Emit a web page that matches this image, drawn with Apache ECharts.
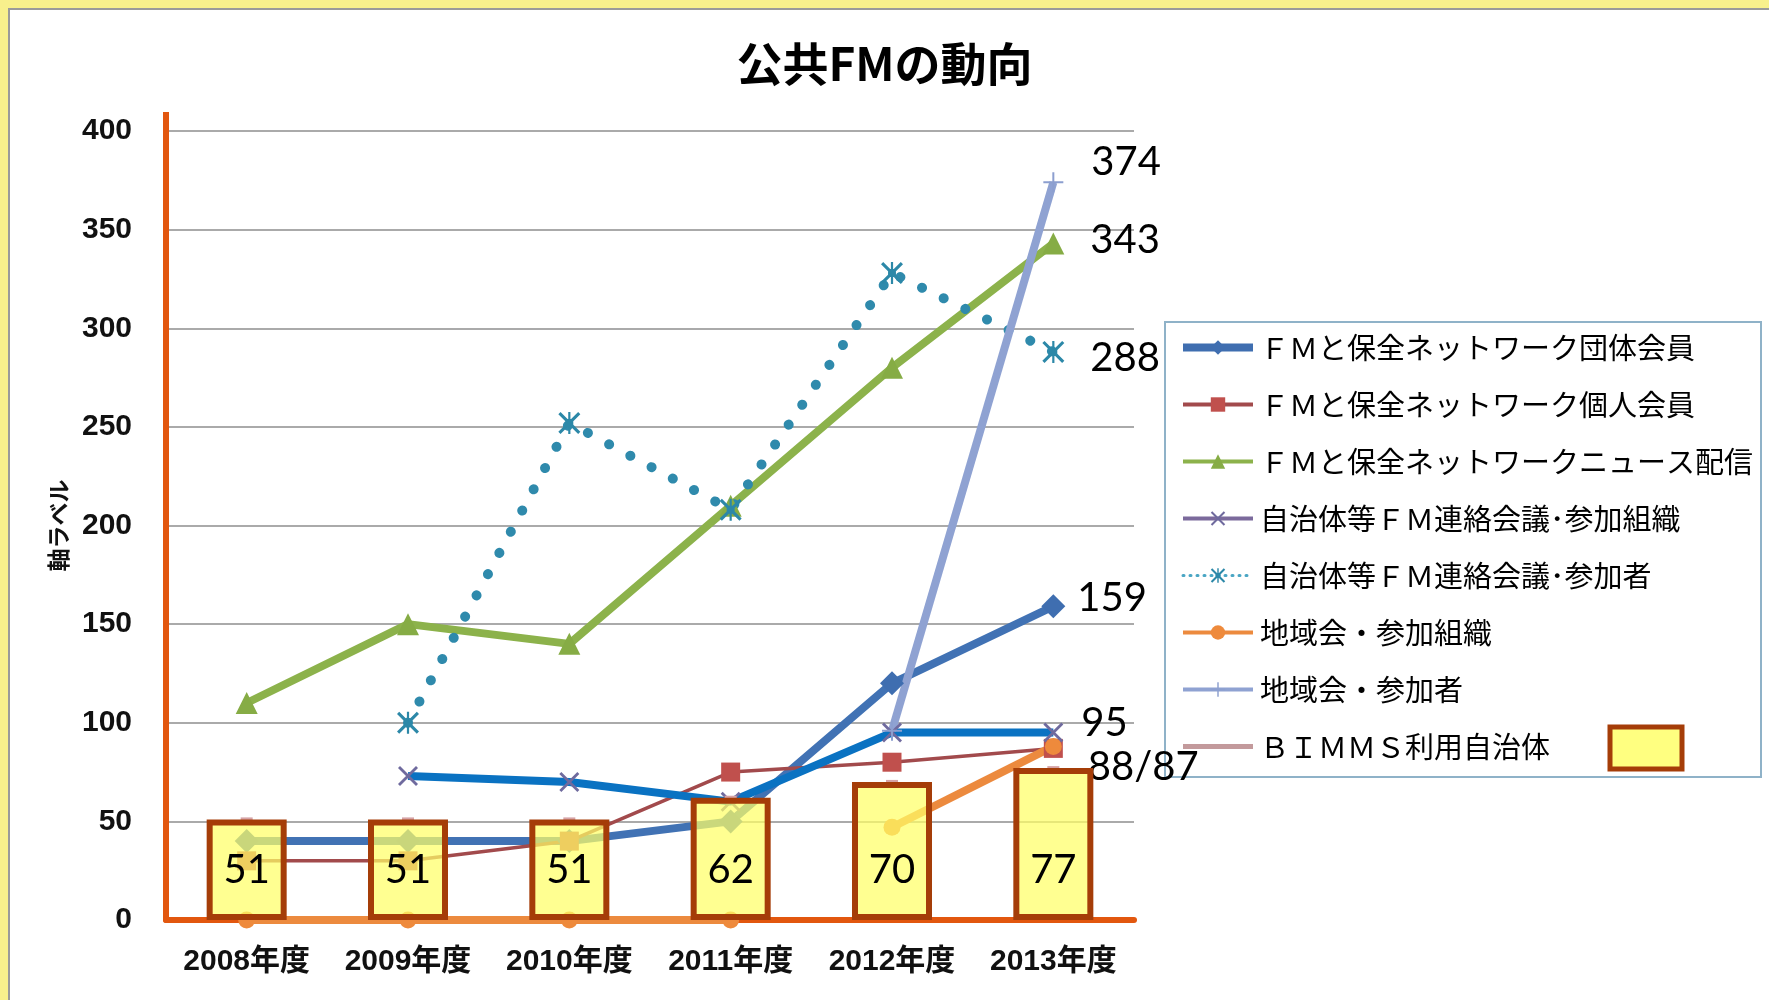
<!DOCTYPE html>
<html lang="ja">
<head>
<meta charset="utf-8">
<title>公共FMの動向</title>
<script src="https://cdn.jsdelivr.net/npm/echarts@6/dist/echarts.min.js"></script>
<style>
  html, body { margin: 0; padding: 0; }
  body { width: 1769px; height: 1000px; background: #f8f08c; position: relative; overflow: hidden; }
  #panel { position: absolute; left: 8px; top: 8px; right: 0; bottom: 0; background: #fff;
           border-left: 2px solid #9a9a9a; border-top: 2px solid #9a9a9a; }
  #chart { position: absolute; left: 0; top: 0; width: 1769px; height: 1000px; }
</style>
</head>
<body>
<div id="panel"></div>
<div id="chart"></div>
<script>
// ---- data ----
const years = ['2008年度', '2009年度', '2010年度', '2011年度', '2012年度', '2013年度'];
const groupMembers         = [40, 40, 40, 50, 120, 159];      // ＦＭと保全ネットワーク団体会員
const individualMembers    = [30, 30, 40, 75, 80, 87];        // ＦＭと保全ネットワーク個人会員
const newsDelivery         = [110, 150, 140, 210, 280, 343];  // ＦＭと保全ネットワークニュース配信
const councilOrgs          = [null, 73, 70, 60, 95, 95];      // 自治体等ＦＭ連絡会議・参加組織
const councilParticipants  = [null, 100, 252, 208, 328, 288]; // 自治体等ＦＭ連絡会議・参加者
const regionalOrgs         = [0, 0, 0, 0, 47, 88];            // 地域会・参加組織
const regionalParticipants = [null, null, null, null, 96, 374]; // 地域会・参加者
const bimmsUsers           = [51, 51, 51, 62, 70, 77];        // ＢＩＭＭＳ利用自治体
const regionalOrgsTrendFrom = 4; // the 地域会 trend line starts in 2012
const yMin = 0, yMax = 400, yStep = 50;

// ---- names ----
const N = {
  group: 'ＦＭと保全ネットワーク団体会員',
  indiv: 'ＦＭと保全ネットワーク個人会員',
  news: 'ＦＭと保全ネットワークニュース配信',
  cOrg: '自治体等ＦＭ連絡会議･参加組織',
  cPar: '自治体等ＦＭ連絡会議･参加者',
  rOrg: '地域会・参加組織',
  rPar: '地域会・参加者',
  bimms: 'ＢＩＭＭＳ利用自治体'
};

// ---- layout / style ----
const GRID = { left: 166, right: 635, top: 131, bottom: 80 };
const ORANGE_AXIS = '#e2570f';
const LABEL_FONT = 'Lato, "Open Sans", sans-serif';
const CJK = '"Noto Sans CJK JP", "Noto Sans", sans-serif';

const X_PATH = 'path://M1,0L10,9L9,10L0,1Z M9,0L10,1L1,10L0,9Z';
const PLUS_PATH = 'path://M4.5,0H5.5V10H4.5Z M0,4.5H10V5.5H0Z';
const STAR_PATH = 'path://M1,0L10,9L9,10L0,1Z M9,0L10,1L1,10L0,9Z M4.5,0H5.5V10H4.5Z M3.2,3.2H6.8V6.8H3.2Z';

const clean = arr => arr.map(v => (v === null ? '-' : v));

// value label placed to the right of the final point of a series
function endLabelled(values, text, offset) {
  const last = values.length - 1;
  return clean(values).map((v, i) => i === last ? {
    value: v,
    label: { show: true, position: 'right', distance: 0, offset: offset, formatter: text,
             fontSize: 40, fontFamily: LABEL_FONT, color: '#000' }
  } : v);
}

const lastOf = arr => arr[arr.length - 1];

const series = [
  {
    name: N.group, type: 'line', z: 3, data: endLabelled(groupMembers, String(lastOf(groupMembers)), [12, -8]),
    symbol: 'diamond', symbolSize: 24, itemStyle: { color: '#3f6eb0' },
    lineStyle: { color: '#4172b4', width: 8 }
  },
  {
    name: N.indiv, type: 'line', z: 3, data: clean(individualMembers),
    symbol: 'rect', symbolSize: 19, itemStyle: { color: '#c0504d' },
    lineStyle: { color: '#a24a4c', width: 3.5 }
  },
  {
    name: N.news, type: 'line', z: 3, data: endLabelled(newsDelivery, String(lastOf(newsDelivery)), [26, -3]),
    symbol: 'triangle', symbolSize: 22, itemStyle: { color: '#86ac45' },
    lineStyle: { color: '#8cb24b', width: 8 }
  },
  {
    name: N.cOrg, type: 'line', z: 3, data: endLabelled(councilOrgs, String(lastOf(councilOrgs)), [18, -10]),
    symbol: X_PATH, symbolSize: 20, itemStyle: { color: '#6f6a9e' },
    lineStyle: { color: '#0a72c2', width: 8 }
  },
  {
    name: N.cPar, type: 'line', z: 3, data: endLabelled(councilParticipants, String(lastOf(councilParticipants)), [26, 6]),
    symbol: STAR_PATH, symbolSize: 22, itemStyle: { color: '#2c88a8' },
    lineStyle: { color: '#2f8aac', width: 10, type: [0.1, 24], cap: 'round' }
  },
  {
    name: N.rOrg, type: 'line', z: 3,
    data: regionalOrgs.map((v, i) => (i < regionalOrgsTrendFrom ? v : '-')),
    symbol: 'circle', symbolSize: 17, itemStyle: { color: '#ee8a3c' },
    lineStyle: { color: '#ec8a3e', width: 8 }
  },
  {
    name: N.rOrg, type: 'line', z: 3,
    data: endLabelled(regionalOrgs.map((v, i) => (i >= regionalOrgsTrendFrom ? v : null)),
      lastOf(regionalOrgs) + '/' + lastOf(individualMembers), [26, 21]),
    symbol: 'circle', symbolSize: 17, itemStyle: { color: '#ee8a3c' },
    lineStyle: { color: '#ec8a3e', width: 8 }
  },
  {
    name: N.rPar, type: 'line', z: 3, data: endLabelled(regionalParticipants, String(lastOf(regionalParticipants)), [28, -20]),
    symbol: PLUS_PATH, symbolSize: 20, itemStyle: { color: '#8c9fcf' },
    lineStyle: { color: '#8fa2d2', width: 8 }
  },
  {
    name: N.bimms, type: 'line', z: 3, data: clean(bimmsUsers),
    symbol: 'rect', symbolSize: [12, 4], itemStyle: { color: '#d6a3a6' },
    lineStyle: { opacity: 0 }
  },
  {
    name: N.bimms, type: 'bar', z: 6, data: clean(bimmsUsers), barWidth: 80,
    itemStyle: { color: 'rgba(255, 255, 102, 0.72)', borderColor: '#a53d08', borderWidth: 6 },
    label: { show: true, position: 'insideBottom', distance: 30, fontSize: 40, fontFamily: LABEL_FONT, color: '#000' }
  }
];

const legendLine = (name, color, width, extra, itemStyle) => {
  const item = { name: name, lineStyle: Object.assign({ color: color, width: width, opacity: 1 }, extra || {}) };
  if (itemStyle) item.itemStyle = itemStyle;
  return item;
};

const chart = echarts.init(document.getElementById('chart'), null, { renderer: 'canvas' });
chart.setOption({
  animation: false,
  backgroundColor: 'transparent',
  title: {
    text: '公共FMの動向', left: 'center', top: 36,
    textStyle: { fontSize: 46, fontWeight: 'bold', fontFamily: CJK, color: '#000' }
  },
  grid: GRID,
  xAxis: {
    type: 'category', data: years,
    axisLine: { show: true, lineStyle: { color: ORANGE_AXIS, width: 6 } },
    axisTick: { show: false },
    axisLabel: { interval: 0, margin: 27, fontSize: 30, fontWeight: 'bold', color: '#111',
                 fontFamily: '"Liberation Sans", "Noto Sans CJK JP", sans-serif' }
  },
  yAxis: {
    type: 'value', min: yMin, max: yMax, interval: yStep,
    name: '軸ラベル', nameLocation: 'middle', nameRotate: 90, nameGap: 96,
    nameTextStyle: { fontSize: 23, fontWeight: 'bold', color: '#111', fontFamily: CJK },
    axisLine: { show: true, lineStyle: { color: ORANGE_AXIS, width: 6 } },
    axisTick: { show: false },
    axisLabel: { margin: 34, fontSize: 30, fontWeight: 'bold', color: '#111',
                 fontFamily: '"Liberation Sans", sans-serif' },
    splitLine: { lineStyle: { color: '#8e8e8e', width: 1.6 } }
  },
  legend: {
    orient: 'vertical', left: 1165, top: 322, z: 1,
    padding: [11, 8, 16, 14], itemGap: 28, itemWidth: 70, itemHeight: 18,
    borderColor: '#8fb2c8', borderWidth: 2, backgroundColor: '#fff',
    textStyle: { fontSize: 29, fontFamily: CJK, color: '#000', padding: [0, 0, 0, 2] },
    data: [
      legendLine(N.group, '#3f6eb0', 8),
      legendLine(N.indiv, '#a24a4c', 4),
      legendLine(N.news, '#8cb24b', 4),
      legendLine(N.cOrg, '#7b6a9c', 4),
      legendLine(N.cPar, '#4aa6c4', 3, { type: [1, 6] }),
      legendLine(N.rOrg, '#ec8a3e', 4),
      legendLine(N.rPar, '#8fa2d2', 4),
      legendLine(N.bimms, '#c39a9c', 5, null, { opacity: 0 })
    ]
  },
  series: series
});

// Decorations: the y axis line runs a little above the top gridline,
// and the legend's last entry carries a swatch of the bar style.
const yTopPx = chart.convertToPixel({ yAxisIndex: 0 }, yMax);
chart.setOption({
  graphic: [
    { type: 'line', z: 10, shape: { x1: GRID.left, y1: yTopPx - 19, x2: GRID.left, y2: yTopPx },
      style: { stroke: ORANGE_AXIS, lineWidth: 6 } },
    { type: 'rect', z: 10, shape: { x: 1610, y: 727, width: 72, height: 42 },
      style: { fill: '#ffff80', stroke: '#a53d08', lineWidth: 5 } }
  ]
});
</script>
</body>
</html>
